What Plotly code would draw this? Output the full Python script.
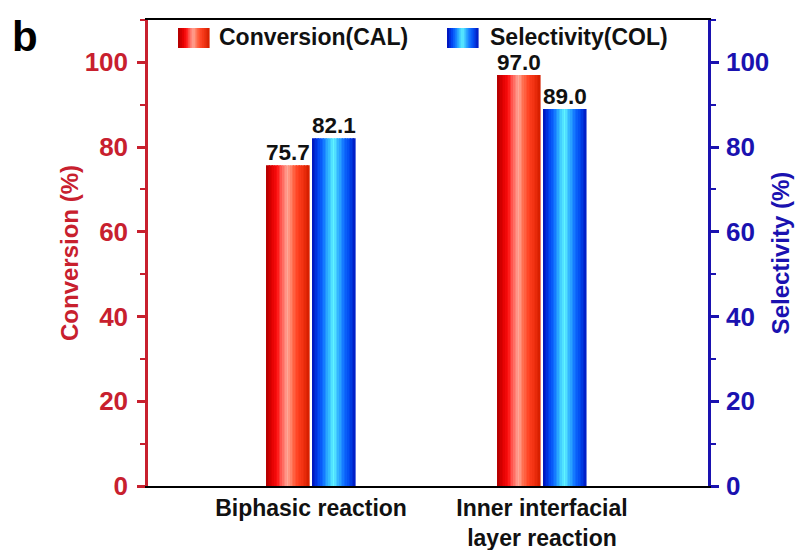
import plotly.graph_objects as go

categories = ["Biphasic reaction", "Inner interfacial<br>layer reaction"]
conversion = [75.7, 97.0]
selectivity = [82.1, 89.0]
y_ticks = [0, 20, 40, 60, 80, 100]
series_names = ["Conversion(CAL)", "Selectivity(COL)"]

RED_AX = "#c8202e"
BLUE_AX = "#1a12b0"
FONT = "Liberation Sans, Arial, sans-serif"

red_stops = ["#b80000", "#e00000", "#ff1010", "#ff6a60", "#ffa898", "#ff6a4a", "#ff4020", "#f03010", "#d82000"]
blue_stops = ["#0018c0", "#0040f0", "#1070ff", "#30b8ff", "#60f4ff", "#30b0ff", "#1070ff", "#0048f0", "#0020c8"]

xpos = list(range(len(categories)))
bar_w = 0.186
gap = 0.013
N = 27


def interp(stops, t):
    idx = t * (len(stops) - 1)
    i0 = min(int(idx), len(stops) - 2)
    f = idx - i0
    c0, c1 = stops[i0], stops[i0 + 1]
    rgb = [round(int(c0[j:j + 2], 16) * (1 - f) + int(c1[j:j + 2], 16) * f) for j in (1, 3, 5)]
    return f"rgb({rgb[0]},{rgb[1]},{rgb[2]})"


fig = go.Figure()
annotations = []


def add_series(values, stops, name, start, yaxis):
    sw = bar_w / N
    for k in range(N):
        fig.add_trace(go.Bar(
            x=xpos, y=values, width=sw * 1.08, offset=start + k * sw,
            marker=dict(color=interp(stops, k / (N - 1)), line=dict(width=0)),
            showlegend=False, hoverinfo="skip", yaxis=yaxis, name=name,
        ))
    # value labels just above the bar tops
    for p, v in zip(xpos, values):
        annotations.append(dict(
            x=p + start + bar_w / 2, y=v, xref="x", yref=yaxis,
            text=f"{v:.1f}", showarrow=False, xanchor="center", yanchor="bottom",
            yshift=-2, font=dict(family=FONT, size=22.5, color="#111111", weight="bold"),
        ))


add_series(conversion, red_stops, series_names[0], -bar_w - gap / 2, "y")
add_series(selectivity, blue_stops, series_names[1], gap / 2, "y2")

# custom legend with gradient swatches (pixel positions converted to paper coords)
L, R, T, B = 148, 87, 20, 64
PW, PH = 795 - L - R, 550 - T - B
shapes = []
legend_items = [(178, 217, red_stops, series_names[0]), (447, 488, blue_stops, series_names[1])]
M = 16
for sx, tx, stops, name in legend_items:
    w = 31
    for k in range(M):
        x0 = sx + k * w / M
        x1 = sx + (k + 1) * w / M + 0.6
        shapes.append(dict(
            type="rect", xref="paper", yref="paper",
            x0=(x0 - L) / PW, x1=(x1 - L) / PW,
            y0=(550 - B - 48) / PH, y1=(550 - B - 28) / PH,
            fillcolor=interp(stops, k / (M - 1)), line=dict(width=0), layer="above",
        ))
    annotations.append(dict(
        text=name, xref="paper", yref="paper", x=(tx - L) / PW, y=(550 - B - 37) / PH,
        xanchor="left", yanchor="middle", showarrow=False,
        font=dict(family=FONT, size=23, color="#111111", weight="bold"),
    ))

annotations.append(dict(
    text="b", xref="paper", yref="paper", x=-0.247, y=1.02,
    xanchor="left", yanchor="top", showarrow=False,
    font=dict(family=FONT, size=42, color="black", weight="bold"),
))

fig.update_layout(
    width=795, height=550,
    margin=dict(l=L, r=R, t=T, b=B),
    barmode="overlay",
    plot_bgcolor="white", paper_bgcolor="white",
    font=dict(family=FONT, color="#111111"),
    showlegend=False,
    xaxis=dict(
        range=[-0.706, 1.719],
        tickvals=xpos, ticktext=categories,
        tickfont=dict(family=FONT, size=23, color="#111111", weight="bold"),
        ticklabelstandoff=0, automargin=False,
        showline=True, linecolor="black", linewidth=2, mirror=True,
        ticks="", showgrid=False, zeroline=False,
    ),
    yaxis=dict(
        range=[0, 110], tickvals=y_ticks, automargin=False,
        tickfont=dict(family=FONT, size=26, color=RED_AX, weight="bold"),
        ticklabelstandoff=4,
        title=dict(text="Conversion (%)", font=dict(family=FONT, size=24, color=RED_AX, weight="bold"), standoff=0),
        showline=True, linecolor=RED_AX, linewidth=2.5,
        ticks="outside", ticklen=8, tickwidth=2.5, tickcolor=RED_AX,
        minor=dict(dtick=10, ticks="outside", ticklen=5, tickwidth=2, tickcolor=RED_AX, showgrid=False),
        showgrid=False, zeroline=False,
    ),
    yaxis2=dict(
        range=[0, 110], tickvals=y_ticks, overlaying="y", side="right", automargin=False,
        tickfont=dict(family=FONT, size=26, color=BLUE_AX, weight="bold"),
        ticklabelstandoff=2,
        title=dict(text="Selectivity (%)", font=dict(family=FONT, size=24, color=BLUE_AX, weight="bold"), standoff=4),
        showline=True, linecolor=BLUE_AX, linewidth=2.5,
        ticks="outside", ticklen=8, tickwidth=2.5, tickcolor=BLUE_AX,
        minor=dict(dtick=10, ticks="outside", ticklen=5, tickwidth=2, tickcolor=BLUE_AX, showgrid=False),
        showgrid=False, zeroline=False,
    ),
    shapes=shapes,
    annotations=annotations,
)

fig.write_html("out.html")
